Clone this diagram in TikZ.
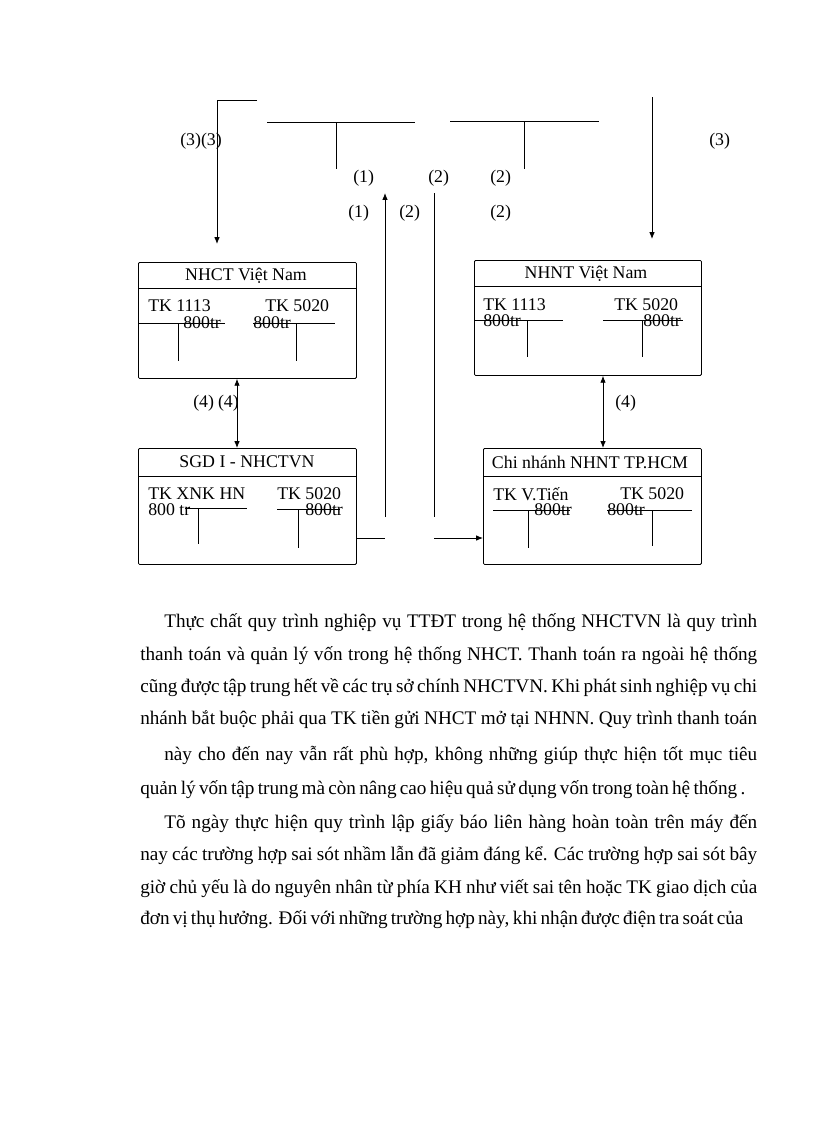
\documentclass[tikz,border=0pt]{standalone}
\usepackage{fontspec}
\setmainfont{Liberation Serif}
\usetikzlibrary{arrows.meta}
\newlength\pxl \setlength\pxl{0.7295pt}
\begin{document}
\begin{tikzpicture}[x=0.7295pt,y=-0.7295pt,
  ln/.style={line width=0.6pt},
  bankbox/.style={draw, line width=0.6pt, rounded corners=0.8pt, minimum width=218\pxl, minimum height=116\pxl, anchor=north west, inner sep=0pt},
  lbl/.style={font=\fontsize{13}{15}\selectfont, inner sep=0pt},
  num/.style={font=\fontsize{13}{15}\selectfont, inner sep=0pt},
  para/.style={font=\fontsize{14}{16}\selectfont, anchor=base west, inner sep=0pt},
  tip/.style={-{Latex[length=5pt,width=4pt]}},
  dtip/.style={{Latex[length=5pt,width=4pt]}-{Latex[length=5pt,width=4pt]}}
]
\useasboundingbox (0,0) rectangle (816,1123);
\fill[white] (0,0) rectangle (816,1123);

% ---------- boxes ----------
\node[bankbox] (nhct) at (138,262) {};
\node[bankbox, minimum width=227\pxl, minimum height=115\pxl] (nhnt) at (474,260) {};
\node[bankbox] (sgd) at (138,448) {};
\node[bankbox] (chi) at (483,448) {};

% header lines
\draw[ln] ([yshift=-26\pxl]nhct.north west) -- ([yshift=-26\pxl]nhct.north east);
\draw[ln] ([yshift=-26\pxl]nhnt.north west) -- ([yshift=-26\pxl]nhnt.north east);
\draw[ln] ([yshift=-28\pxl]sgd.north west) -- ([yshift=-28\pxl]sgd.north east);
\draw[ln] ([yshift=-28\pxl]chi.north west) -- ([yshift=-28\pxl]chi.north east);

% titles
\node[lbl] (tnhct) at (246,276) {NHCT Việt Nam};
\node[lbl] (tnhnt) at (586,274) {NHNT Việt Nam};
\node[lbl] (tsgd) at (247,462) {SGD I - NHCTVN};
\node[lbl] (tchi) at (590,462) {Chi nhánh NHNT TP.HCM};

% ---------- NHCT contents ----------
\node[lbl, anchor=west] (a1) at (148,306) {TK 1113};
\node[lbl, anchor=west] (a2) at (265,306) {TK 5020};
\draw[ln] (138,323) -- (225,323);
\draw[ln] (178,323) -- (178,361);
\draw[ln] (253,323) -- (335,323);
\draw[ln] (296,323) -- (296,361);
\node[lbl, anchor=west] (a3) at (183,323) {800tr};
\node[lbl, anchor=west] (a4) at (253,323) {800tr};

% ---------- NHNT contents ----------
\node[lbl, anchor=west] (b1) at (483,305) {TK 1113};
\node[lbl, anchor=west] (b2) at (614,305) {TK 5020};
\draw[ln] (474,320) -- (563,320);
\draw[ln] (527,320) -- (527,357);
\draw[ln] (603,320) -- (683,320);
\draw[ln] (642,320) -- (642,357);
\node[lbl, anchor=west] (b3) at (483,321) {800tr};
\node[lbl, anchor=west] (b4) at (643,321) {800tr};

% ---------- SGD contents ----------
\node[lbl, anchor=west] (c1) at (148,494) {TK XNK HN};
\node[lbl, anchor=west] (c2) at (277,494) {TK 5020};
\draw[ln] (185,508) -- (247,508);
\draw[ln] (198,508) -- (198,544);
\draw[ln] (277,509) -- (340,509);
\draw[ln] (298,509) -- (298,548);
\node[lbl, anchor=west] (c3) at (148,510) {800 tr};
\node[lbl, anchor=west] (c4) at (305,510) {800tr};

% ---------- Chi nhanh contents ----------
\node[lbl, anchor=west] (d1) at (493,494) {TK V.Tiến};
\node[lbl, anchor=west] (d2) at (620,494) {TK 5020};
\draw[ln] (493,510) -- (570,510);
\draw[ln] (528,510) -- (528,548);
\draw[ln] (607,510) -- (692,510);
\draw[ln] (652,510) -- (652,546);
\node[lbl, anchor=west] (d3) at (534,510) {800tr};
\node[lbl, anchor=west] (d4) at (607,510) {800tr};

% ---------- top T-accounts ----------
\draw[ln] (267,122) -- (415,122);
\draw[ln] (336,122) -- (336,169);
\draw[ln] (450,121) -- (599,121);
\draw[ln] (524,121) -- (524,169);

% ---------- connectors ----------
\coordinate (lt) at (257,100);
\coordinate (lc) at (217,100);
\coordinate (le) at (217,244);
\draw[ln, tip] (lt) -- (lc) -- (le);

\coordinate (rs) at (652,97);
\coordinate (re) at (652,239);
\draw[ln, tip] (rs) -- (re);

\coordinate (x4l) at (237,0);
\coordinate (x4r) at (603,0);
\draw[ln, dtip] (nhct.south -| x4l) -- (sgd.north -| x4l);
\draw[ln, dtip] (nhnt.south -| x4r) -- (chi.north -| x4r);

\coordinate (h1) at (385,538);
\coordinate (u1) at (385,517);
\coordinate (u2) at (385,193);
\coordinate (v1) at (434,193);
\coordinate (v2) at (434,517);
\coordinate (h2) at (434,538);
\draw[ln] (sgd.east |- h1) -- (h1);
\draw[ln, tip] (u1) -- (u2);
\draw[ln] (v1) -- (v2);
\draw[ln, tip] (h2) -- (chi.west |- h2);

% ---------- labels ----------
\node[num, anchor=west] (l33) at (180,141) {(3)(3)};
\node[num, anchor=west] (l3) at (709,141) {(3)};
\node[num, anchor=west] (l1a) at (353,178) {(1)};
\node[num, anchor=west] (l2a) at (428,178) {(2)};
\node[num, anchor=west] (l2b) at (490,178) {(2)};
\node[num, anchor=west] (l1b) at (348,213) {(1)};
\node[num, anchor=west] (l2c) at (399,213) {(2)};
\node[num, anchor=west] (l2d) at (490,213) {(2)};
\node[num, anchor=west] (l44) at (193,403) {(4)\hspace{4\pxl}(4)};
\node[num, anchor=west] (l4) at (615,403) {(4)};

% ---------- paragraphs ----------
\node[para] (p1) at (164,627) {\makebox[593\pxl][s]{Thực chất quy trình nghiệp vụ TTĐT trong hệ thống NHCTVN là quy trình}};
\node[para] (p2) at (140,660) {\makebox[617\pxl][s]{thanh toán và quản lý vốn trong hệ thống NHCT. Thanh toán ra ngoài hệ thống}};
\node[para] (p3) at (140,692) {\makebox[617\pxl][s]{cũng được tập trung hết về các trụ sở chính NHCTVN. Khi phát sinh nghiệp vụ chi}};
\node[para] (p4) at (140,724) {\makebox[617\pxl][s]{nhánh bắt buộc phải qua TK tiền gửi NHCT mở tại NHNN. Quy trình thanh toán}};
\node[para] (p5) at (164,760) {\makebox[593\pxl][s]{này cho đến nay vẫn rất phù hợp, không những giúp thực hiện tốt mục tiêu}};
\node[para] (p6) at (140,794) {\makebox[605\pxl][s]{quản lý vốn tập trung mà còn nâng cao hiệu quả sử dụng vốn trong toàn hệ thống .}};
\node[para] (p7) at (164,828) {\makebox[593\pxl][s]{Tõ ngày thực hiện quy trình lập giấy báo liên hàng hoàn toàn trên máy đến}};
\node[para] (p8) at (140,860) {\makebox[617\pxl][s]{nay các trường hợp sai sót nhầm lẫn đã giảm đáng kể. Các trường hợp sai sót bây}};
\node[para] (p9) at (140,893) {\makebox[617\pxl][s]{giờ chủ yếu là do nguyên nhân từ phía KH như viết sai tên hoặc TK giao dịch của}};
\node[para] (p10) at (140,924) {\makebox[598\pxl][s]{đơn vị thụ hưởng. Đối với những trường hợp này, khi nhận được điện tra soát của}};
\end{tikzpicture}
\end{document}
